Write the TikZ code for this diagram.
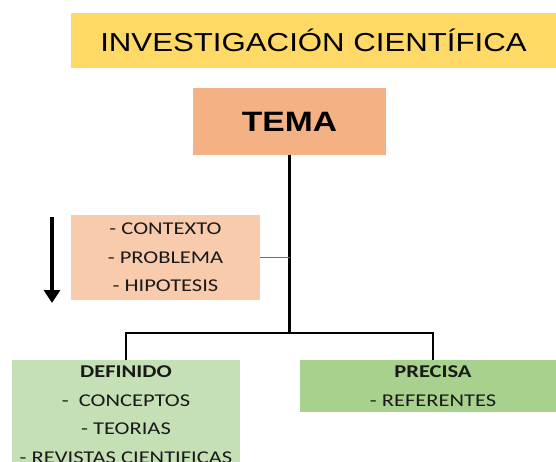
\documentclass[tikz,border=0pt]{standalone}
\usepackage{fontspec}
\newfontfamily\arialw[FakeStretch=1.2]{Liberation Sans}
\newfontfamily\caliw[FakeStretch=1.25]{Carlito}
\usetikzlibrary{arrows.meta,positioning}
\definecolor{amarillo}{HTML}{FFD966}
\definecolor{salmon}{HTML}{F4B183}
\definecolor{salmonclaro}{HTML}{F8CBAD}
\definecolor{verdeclaro}{HTML}{C5E0B4}
\definecolor{verde}{HTML}{A9D18E}
\definecolor{azul}{HTML}{4472C4}

\begin{document}
\begin{tikzpicture}[x=1pt,y=-1pt,
  caja/.style={rectangle, inner sep=0pt, outer sep=0pt},
  lista/.style={caja, align=center, inner ysep=6pt, text=black!90,
    font=\caliw\fontsize{18}{28.5}\selectfont},
  enlace/.style={line width=2.6pt, black}]
\clip (0,0) rectangle (556,461);
\node[caja, fill=amarillo, minimum width=485pt, minimum height=55pt,
  font=\arialw\fontsize{26}{30}\selectfont] (inv) at (313.5,40.5) {INVESTIGACIÓN CIENTÍFICA};
\node[caja, fill=salmon, minimum width=193pt, minimum height=67pt,
  font=\arialw\bfseries\fontsize{28}{32}\selectfont] (tema) at (289.5,121.5) {TEMA};
\node[lista, inner ysep=8pt, fill=salmonclaro, minimum width=189pt, anchor=north] (ctx) at (165.5,215)
  {- CONTEXTO\\- PROBLEMA\\- HIPOTESIS};
\node[lista, fill=verdeclaro, minimum width=228pt, anchor=north] (def) at (126,360)
  {\textbf{DEFINIDO}\\-\ \ CONCEPTOS\\- TEORIAS\\- REVISTAS CIENTIFICAS};
\node[lista, fill=verde, minimum width=266pt, anchor=north] (prec) at (433,360)
  {\textbf{PRECISA}\\- REFERENTES};

\coordinate (split) at (tema.south |- 0,333);
\coordinate (flechaA) at (52,217);
\coordinate (flechaB) at (52,303);

\draw[enlace] (tema.south) -- (split);
\draw[enlace] (def.north) |- (split) -| (prec.north);
\draw[azul, line width=1.8pt] (ctx.east) -- (ctx.east -| tema.south);
\draw[line width=3.5pt, -{Triangle[width=16pt,length=13pt]}] (flechaA) -- (flechaB);
\end{tikzpicture}
\end{document}
